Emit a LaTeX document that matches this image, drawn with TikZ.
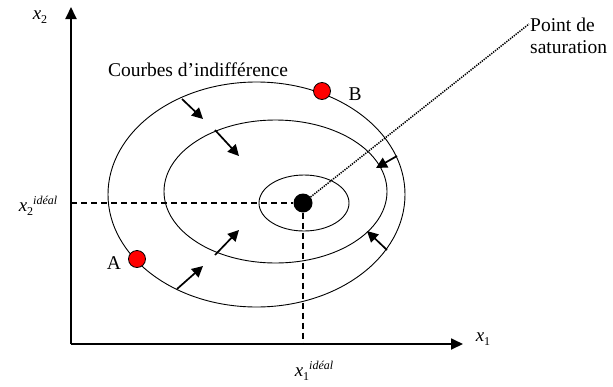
\documentclass[tikz,border=0pt]{standalone}
\usepackage{fontspec}
\setmainfont{Liberation Serif}
\usetikzlibrary{arrows.meta,shapes.geometric}
\tikzset{
  axis/.style={line width=1.8pt,-{Triangle[length=12pt,width=11pt]}},
  curve/.style={draw,ellipse,line width=0.9pt,inner sep=0pt},
  push/.style={line width=1.7pt,-{Triangle[length=11pt,width=11pt]}},
  guide/.style={line width=1.6pt,dash pattern=on 6pt off 4pt},
  reddot/.style={circle,draw,line width=0.8pt,fill=red,minimum size=17pt,inner sep=0pt},
  blackdot/.style={circle,fill=black,minimum size=19pt,inner sep=0pt},
  lbl/.style={font=\fontsize{19.5}{22}\selectfont,inner sep=0pt},
  axlbl/.style={font=\fontsize{19}{20}\selectfont,inner sep=0pt}
}
\newcommand{\smallsub}[1]{\raisebox{-4pt}{\fontsize{12}{12}\selectfont #1}}
\newcommand{\smallsup}[1]{\raisebox{7pt}{\fontsize{12}{12}\selectfont\itshape #1}}
\begin{document}
\begin{tikzpicture}[x=1pt,y=-1pt]
\useasboundingbox (0,0) rectangle (613,386);
% axes
\coordinate (O) at (71,344);
\coordinate (ytop) at (71,7);
\coordinate (xend) at (463,344);
\draw[axis] (O) -- (ytop);
\draw[axis] (O) -- (xend);
\node[axlbl] (x2) at (40,17) {\textit{x}\smallsub{2}};
\node[axlbl] (x1) at (483,339) {\textit{x}\smallsub{1}};
% indifference curves
\node[curve,minimum width=297pt,minimum height=225pt] (outer) at (256.5,194.5) {};
\node[curve,minimum width=223pt,minimum height=143pt] (middle) at (275.5,191.5) {};
\node[curve,minimum width=90pt,minimum height=56pt] (inner) at (304,203) {};
% saturation point
\node[blackdot] (sat) at (303,203) {};
\coordinate (yi) at (O |- sat);
\coordinate (xi) at (sat |- O);
\draw[guide] (yi) -- (sat);
\draw[guide] (sat) -- (xi);
\node[axlbl,anchor=center] (x2i) at (38,206) {\textit{x}\smallsub{2}\smallsup{idéal}};
\node[axlbl,anchor=center] (x1i) at (314,371) {\textit{x}\smallsub{1}\smallsup{idéal}};
% label
\node[lbl] (courbes) at (198,70) {Courbes d’indifférence};
\node[lbl,align=left,anchor=west] (ps) at (530,36) {Point de\\saturation};
\coordinate (psend) at (529,24);
\draw[line width=1.5pt,dash pattern=on 1.3pt off 1.1pt] (sat) -- (psend);
% points A and B
\node[reddot] (A) at (137,259) {};
\node[reddot] (B) at (322,91) {};
\node[lbl] (Al) at (114,263) {A};
\node[lbl] (Bl) at (355,94) {B};
% arrows
\coordinate (a1s) at (182,99);  \coordinate (a1e) at (203,119);
\coordinate (a2s) at (215,130); \coordinate (a2e) at (239,156);
\coordinate (a3s) at (397,156); \coordinate (a3e) at (376,168);
\coordinate (a4s) at (215,255); \coordinate (a4e) at (239,230);
\coordinate (a5s) at (177,289); \coordinate (a5e) at (203,266);
\coordinate (a6s) at (387,250); \coordinate (a6e) at (367,231);
\foreach \i in {1,...,6} \draw[push] (a\i s) -- (a\i e);
\end{tikzpicture}
\end{document}
